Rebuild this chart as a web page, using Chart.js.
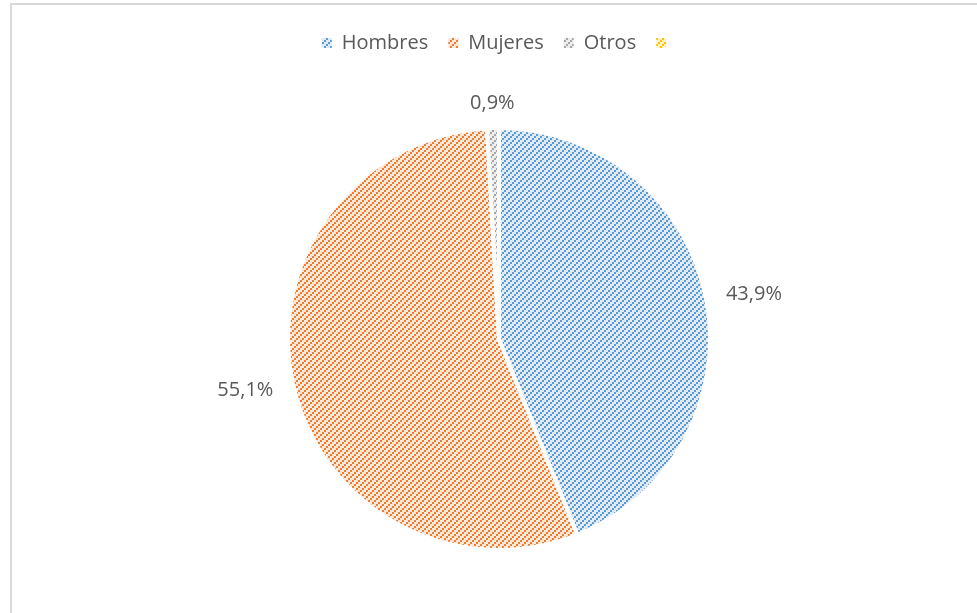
<!DOCTYPE html>
<html>
<head>
<meta charset="utf-8">
<script src="https://cdn.jsdelivr.net/npm/chart.js@4.4.1/dist/chart.umd.min.js"></script>
<style>
  html, body { margin: 0; padding: 0; background: #ffffff; overflow: hidden; }
  #frame {
    position: absolute; left: 10px; top: 3px; width: 1100px; height: 800px;
    border-left: 2px solid #d9d9d9; border-top: 2px solid #d9d9d9;
  }
  #wrap { position: absolute; left: 0; top: 0; width: 977px; height: 623px; }
</style>
</head>
<body>
<div id="frame"></div>
<div id="wrap"><canvas id="chart" width="977" height="623"></canvas></div>
<script>
// Gender distribution
const categories = ['Hombres', 'Mujeres', 'Otros', ''];
const shares = [43.9, 55.1, 0.9, 0];

// Hatch colours per category: [line, background]
const hatchColors = [
  ['#5b9bd5', '#e1ebf7'],
  ['#ed7d31', '#fde8da'],
  ['#a5a5a5', '#eeeeee'],
  ['#ffc000', '#fff2cc']
];

// Upward diagonal hatch made of 2x2 blocks touching at the corners
function makeHatch(line, bg) {
  const size = 6;
  const c = document.createElement('canvas');
  c.width = size; c.height = size;
  const g = c.getContext('2d');
  g.fillStyle = bg;
  g.fillRect(0, 0, size, size);
  g.fillStyle = line;
  for (let cy = 0; cy < 3; cy++) {
    for (let cx = 0; cx < 3; cx++) {
      if ((cx + cy) % 3 === 2) g.fillRect(cx * 2, cy * 2, 2, 2);
    }
  }
  return g.createPattern(c, 'repeat');
}
const fills = hatchColors.map(([l, b]) => makeHatch(l, b));

const FONT = "'Open Sans', 'Liberation Sans', sans-serif";

// Percentage labels placed just outside each slice
const outsideLabels = {
  id: 'outsideLabels',
  afterDatasetsDraw(chart) {
    const ctx = chart.ctx;
    const meta = chart.getDatasetMeta(0);
    ctx.save();
    ctx.font = '20px ' + FONT;
    ctx.fillStyle = '#595959';
    ctx.textAlign = 'center';
    ctx.textBaseline = 'middle';
    meta.data.forEach((arc, i) => {
      const v = shares[i];
      if (!v) return;
      const p = arc.getProps(['x', 'y', 'startAngle', 'endAngle', 'outerRadius'], true);
      const mid = (p.startAngle + p.endAngle) / 2;
      const dx = Math.cos(mid), dy = Math.sin(mid);
      const r = p.outerRadius + 15;
      const ax = p.x + dx * r, ay = p.y + dy * r;
      const text = v.toFixed(1).replace('.', ',') + '%';
      const hw = ctx.measureText(text).width / 2 + 5, hh = 10;
      const sx = Math.abs(dx) > 1e-6 ? hw / Math.abs(dx) : Infinity;
      const sy = Math.abs(dy) > 1e-6 ? hh / Math.abs(dy) : Infinity;
      const s = Math.min(sx, sy);
      // side labels stay nearly level with their anchor point
      const ky = sx < sy ? 0.3 : 1;
      ctx.fillText(text, ax + dx * s, ay + dy * s * ky);
    });
    ctx.restore();
  }
};

new Chart(document.getElementById('chart'), {
  type: 'pie',
  data: {
    labels: categories,
    datasets: [{
      data: shares,
      backgroundColor: fills,
      borderColor: '#ffffff',
      borderWidth: 4,
      radius: 211
    }]
  },
  options: {
    responsive: false,
    animation: false,
    layout: { padding: { left: 40, right: 19, top: 13, bottom: 8 } },
    plugins: {
      legend: {
        position: 'top',
        labels: {
          usePointStyle: true,
          pointStyle: 'rect',
          boxWidth: 10,
          boxHeight: 10,
          pointStyleWidth: 10,
          padding: 20,
          color: '#595959',
          font: { family: FONT, size: 20 },
          generateLabels(chart) {
            const items = Chart.controllers.pie.overrides.plugins.legend.labels.generateLabels(chart);
            items.forEach(it => { it.lineWidth = 0; it.strokeStyle = 'rgba(0,0,0,0)'; });
            return items;
          }
        }
      },
      tooltip: { enabled: false }
    }
  },
  plugins: [outsideLabels]
});
</script>
</body>
</html>
